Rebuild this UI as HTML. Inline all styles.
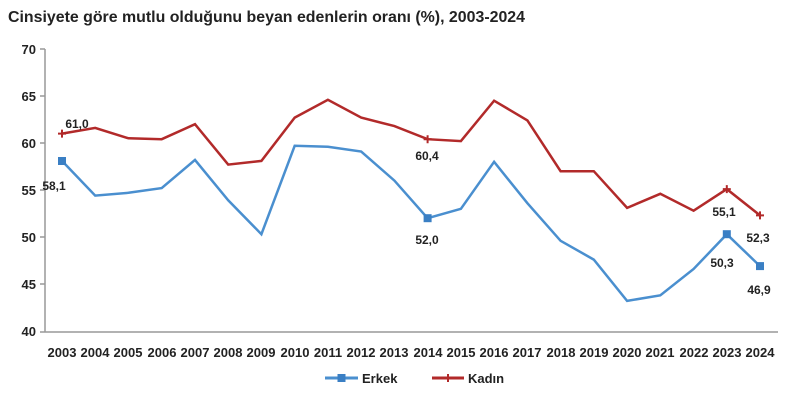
<!DOCTYPE html>
<html><head><meta charset="utf-8"><style>
body{margin:0;background:#fff;}
svg text{font-family:"Liberation Sans Narrow","Liberation Sans",sans-serif;font-weight:bold;fill:#222;}
</style></head><body>
<svg width="800" height="400" xmlns="http://www.w3.org/2000/svg">
<text x="8" y="22" font-size="16" textLength="517" lengthAdjust="spacingAndGlyphs">Cinsiyete göre mutlu olduğunu beyan edenlerin oranı (%), 2003-2024</text>
<g stroke="#999" stroke-width="1.5">
<line x1="45" y1="49" x2="45" y2="332"/>
<line x1="45" y1="332" x2="778" y2="332"/>
<line x1="40" y1="49" x2="45" y2="49"/><line x1="40" y1="96" x2="45" y2="96"/><line x1="40" y1="143" x2="45" y2="143"/><line x1="40" y1="190" x2="45" y2="190"/><line x1="40" y1="237" x2="45" y2="237"/><line x1="40" y1="284" x2="45" y2="284"/><line x1="40" y1="332" x2="45" y2="332"/>
</g>
<g font-size="13" text-anchor="end">
<text x="36" y="54">70</text><text x="36" y="101">65</text><text x="36" y="148">60</text><text x="36" y="195">55</text><text x="36" y="242">50</text><text x="36" y="289">45</text><text x="36" y="336">40</text>
</g>
<g font-size="13" text-anchor="middle">
<text x="62" y="357">2003</text><text x="95" y="357">2004</text><text x="128" y="357">2005</text><text x="162" y="357">2006</text><text x="195" y="357">2007</text><text x="228" y="357">2008</text><text x="261" y="357">2009</text><text x="295" y="357">2010</text><text x="328" y="357">2011</text><text x="361" y="357">2012</text><text x="394" y="357">2013</text><text x="428" y="357">2014</text><text x="461" y="357">2015</text><text x="494" y="357">2016</text><text x="527" y="357">2017</text><text x="561" y="357">2018</text><text x="594" y="357">2019</text><text x="627" y="357">2020</text><text x="660" y="357">2021</text><text x="694" y="357">2022</text><text x="727" y="357">2023</text><text x="760" y="357">2024</text>
</g>
<polyline fill="none" stroke="#4a8fcf" stroke-width="2.5" points="62,160.9 95.2,195.6 128.5,192.8 161.7,188.1 195,159.9 228.2,200.3 261.4,234.2 294.7,145.8 327.9,146.8 361.2,151.5 394.4,180.6 427.6,218.2 460.9,208.8 494.1,161.8 527.4,203.2 560.6,240.8 593.8,259.6 627.1,300.9 660.3,295.3 693.6,269 726.8,234.2 760,266.1"/>
<polyline fill="none" stroke="#b22a2a" stroke-width="2.5" points="62,133.6 95.2,127.9 128.5,138.3 161.7,139.2 195,124.2 228.2,164.6 261.4,160.9 294.7,117.6 327.9,99.8 361.2,117.6 394.4,126.1 427.6,139.2 460.9,141.1 494.1,100.7 527.4,120.4 560.6,171.2 593.8,171.2 627.1,207.9 660.3,193.8 693.6,210.7 726.8,189.1 760,215.4"/>
<g fill="#3a7fc4"><rect x="58" y="157" width="8" height="8"/><rect x="423.6" y="214.2" width="8" height="8"/><rect x="722.8" y="230.2" width="8" height="8"/><rect x="756" y="262.1" width="8" height="8"/></g>
<g stroke="#b22a2a" stroke-width="2"><path d="M58,133.6h8M62,129.6v8"/><path d="M423.6,139.2h8M427.6,135.2v8"/><path d="M722.8,189.1h8M726.8,185.1v8"/><path d="M756,215.4h8M760,211.4v8"/></g>
<g font-size="12" text-anchor="middle">
<text x="54" y="190">58,1</text><text x="77" y="128">61,0</text>
<text x="427" y="160">60,4</text><text x="427" y="244">52,0</text>
<text x="724" y="216">55,1</text><text x="722" y="267">50,3</text>
<text x="758" y="242">52,3</text><text x="759" y="294">46,9</text>
</g>
<line x1="325" y1="378" x2="358" y2="378" stroke="#4a8fcf" stroke-width="3"/><rect x="337.5" y="374" width="8" height="8" fill="#3a7fc4"/>
<text x="362" y="383" font-size="13">Erkek</text>
<line x1="432" y1="378" x2="464" y2="378" stroke="#b22a2a" stroke-width="3"/><path d="M444,378h8M448,374v8" stroke="#b22a2a" stroke-width="2"/>
<text x="468" y="383" font-size="13">Kadın</text>
</svg>
</body></html>
